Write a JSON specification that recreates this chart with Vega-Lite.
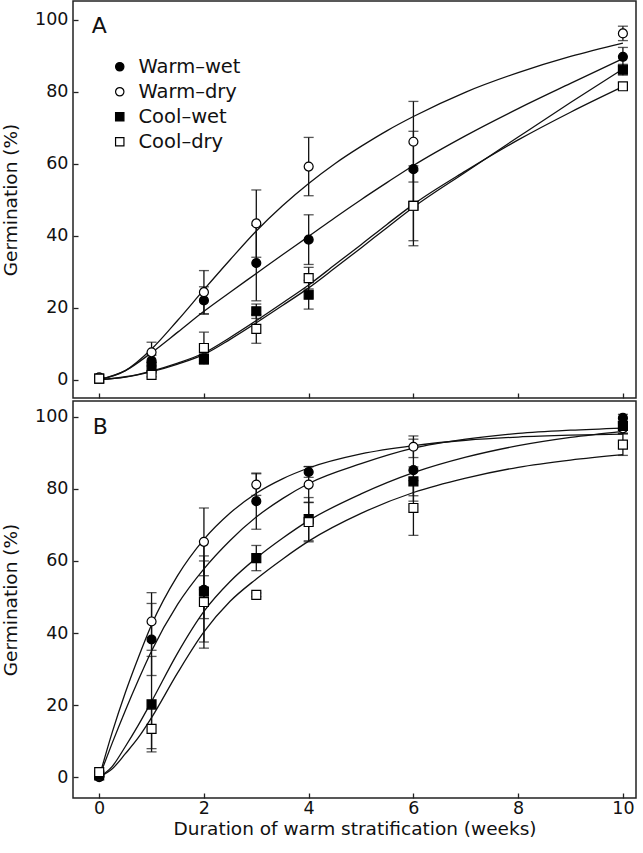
{
  "$schema": "https://vega.github.io/schema/vega-lite/v6.json",
  "padding": {"left": 0, "top": 0, "right": 5, "bottom": 5},
  "spacing": 0,
  "config": {
    "font": "DejaVu Sans",
    "view": {"stroke": "#222", "strokeWidth": 1.5},
    "axis": {"grid": false, "domain": false, "tickSize": -5, "tickColor": "#222", "tickWidth": 1.3,
             "labelFontSize": 17.5, "labelColor": "#111", "titleFontSize": 18.5, "titleFontWeight": "normal",
             "titleColor": "#111", "labelFont": "DejaVu Sans", "titleFont": "DejaVu Sans"},
    "legend": {"labelFontSize": 19.5, "labelFont": "DejaVu Sans", "labelColor": "#111", "symbolSize": 70, "rowPadding": 4,
               "labelOffset": 9, "symbolStrokeColor": "#000", "symbolStrokeWidth": 1.2, "padding": 0}
  },
  "datasets": {
    "ptsA": [
      {"treatment": "Warm–wet", "week": 0, "germ": 0.6, "lo": 0.6, "hi": 0.6},
      {"treatment": "Warm–wet", "week": 1, "germ": 5.3, "lo": 3.8, "hi": 6.8},
      {"treatment": "Warm–wet", "week": 2, "germ": 22, "lo": 18.2, "hi": 25.8},
      {"treatment": "Warm–wet", "week": 3, "germ": 32.4, "lo": 21.9, "hi": 42.9},
      {"treatment": "Warm–wet", "week": 4, "germ": 38.9, "lo": 32, "hi": 45.8},
      {"treatment": "Warm–wet", "week": 6, "germ": 58.5, "lo": 48, "hi": 69},
      {"treatment": "Warm–wet", "week": 10, "germ": 89.7, "lo": 87.1, "hi": 92.3},
      {"treatment": "Warm–dry", "week": 0, "germ": 0.6, "lo": 0.6, "hi": 0.6},
      {"treatment": "Warm–dry", "week": 1, "germ": 7.6, "lo": 4.8, "hi": 10.4},
      {"treatment": "Warm–dry", "week": 2, "germ": 24.3, "lo": 18.3, "hi": 30.3},
      {"treatment": "Warm–dry", "week": 3, "germ": 43.4, "lo": 34, "hi": 52.7},
      {"treatment": "Warm–dry", "week": 4, "germ": 59.2, "lo": 51.1, "hi": 67.3},
      {"treatment": "Warm–dry", "week": 6, "germ": 66.1, "lo": 54.9, "hi": 77.3},
      {"treatment": "Warm–dry", "week": 10, "germ": 96.2, "lo": 94.2, "hi": 98.2},
      {"treatment": "Cool–wet", "week": 0, "germ": 0.3, "lo": 0.3, "hi": 0.3},
      {"treatment": "Cool–wet", "week": 1, "germ": 3.5, "lo": 2, "hi": 5},
      {"treatment": "Cool–wet", "week": 2, "germ": 5.75, "lo": 4.3, "hi": 7.2},
      {"treatment": "Cool–wet", "week": 3, "germ": 19, "lo": 17, "hi": 21},
      {"treatment": "Cool–wet", "week": 4, "germ": 23.6, "lo": 19.6, "hi": 27.6},
      {"treatment": "Cool–wet", "week": 6, "germ": 48.3, "lo": 38.6, "hi": 58},
      {"treatment": "Cool–wet", "week": 10, "germ": 86.1, "lo": 84.6, "hi": 87.6},
      {"treatment": "Cool–dry", "week": 0, "germ": 0.3, "lo": 0.3, "hi": 0.3},
      {"treatment": "Cool–dry", "week": 1, "germ": 1.3, "lo": 0.8, "hi": 1.8},
      {"treatment": "Cool–dry", "week": 2, "germ": 8.8, "lo": 4.4, "hi": 13.2},
      {"treatment": "Cool–dry", "week": 3, "germ": 14.1, "lo": 10.1, "hi": 18.1},
      {"treatment": "Cool–dry", "week": 4, "germ": 28.2, "lo": 25.2, "hi": 31.2},
      {"treatment": "Cool–dry", "week": 6, "germ": 48.3, "lo": 37.2, "hi": 59.4},
      {"treatment": "Cool–dry", "week": 10, "germ": 81.5, "lo": 80.5, "hi": 82.5}
    ],
    "ptsB": [
      {"treatment": "Warm–wet", "week": 0, "germ": 0, "lo": 0, "hi": 0},
      {"treatment": "Warm–wet", "week": 1, "germ": 38.2, "lo": 28.2, "hi": 48.2},
      {"treatment": "Warm–wet", "week": 2, "germ": 52, "lo": 44, "hi": 60},
      {"treatment": "Warm–wet", "week": 3, "germ": 76.6, "lo": 68.8, "hi": 84.4},
      {"treatment": "Warm–wet", "week": 4, "germ": 84.7, "lo": 83.2, "hi": 86.2},
      {"treatment": "Warm–wet", "week": 6, "germ": 85.2, "lo": 76.6, "hi": 93.8},
      {"treatment": "Warm–wet", "week": 10, "germ": 99.7, "lo": 98.7, "hi": 100.7},
      {"treatment": "Warm–dry", "week": 0, "germ": 0.3, "lo": 0.3, "hi": 0.3},
      {"treatment": "Warm–dry", "week": 1, "germ": 43.2, "lo": 35.2, "hi": 51.2},
      {"treatment": "Warm–dry", "week": 2, "germ": 65.3, "lo": 55.9, "hi": 74.7},
      {"treatment": "Warm–dry", "week": 3, "germ": 81.2, "lo": 78.2, "hi": 84.2},
      {"treatment": "Warm–dry", "week": 4, "germ": 81.2, "lo": 76.2, "hi": 86.2},
      {"treatment": "Warm–dry", "week": 6, "germ": 91.7, "lo": 88.7, "hi": 94.7},
      {"treatment": "Warm–dry", "week": 10, "germ": 96.8, "lo": 95.3, "hi": 98.3},
      {"treatment": "Cool–wet", "week": 0, "germ": 0.5, "lo": 0.5, "hi": 0.5},
      {"treatment": "Cool–wet", "week": 1, "germ": 20.2, "lo": 7, "hi": 33.5},
      {"treatment": "Cool–wet", "week": 2, "germ": 51.5, "lo": 37.5, "hi": 65.5},
      {"treatment": "Cool–wet", "week": 3, "germ": 60.8, "lo": 57.3, "hi": 64.3},
      {"treatment": "Cool–wet", "week": 4, "germ": 71.6, "lo": 65.6, "hi": 77.6},
      {"treatment": "Cool–wet", "week": 6, "germ": 82.1, "lo": 78.1, "hi": 86.1},
      {"treatment": "Cool–wet", "week": 10, "germ": 97.5, "lo": 95.5, "hi": 99.5},
      {"treatment": "Cool–dry", "week": 0, "germ": 1.4, "lo": 1.4, "hi": 1.4},
      {"treatment": "Cool–dry", "week": 1, "germ": 13.4, "lo": 7.9, "hi": 18.9},
      {"treatment": "Cool–dry", "week": 2, "germ": 48.6, "lo": 35.8, "hi": 61.4},
      {"treatment": "Cool–dry", "week": 3, "germ": 50.6, "lo": 50.1, "hi": 51.1},
      {"treatment": "Cool–dry", "week": 4, "germ": 70.8, "lo": 65.3, "hi": 76.3},
      {"treatment": "Cool–dry", "week": 6, "germ": 74.7, "lo": 67.1, "hi": 82.3},
      {"treatment": "Cool–dry", "week": 10, "germ": 92.3, "lo": 89.3, "hi": 95.3}
    ],
    "curA": [
      {"treatment": "Warm–wet", "week": 0, "germ": 0}, {"treatment": "Warm–wet", "week": 0.5, "germ": 2.5},
      {"treatment": "Warm–wet", "week": 1, "germ": 7.5}, {"treatment": "Warm–wet", "week": 1.5, "germ": 13.2},
      {"treatment": "Warm–wet", "week": 2, "germ": 19}, {"treatment": "Warm–wet", "week": 2.5, "germ": 24.3},
      {"treatment": "Warm–wet", "week": 3, "germ": 29.5}, {"treatment": "Warm–wet", "week": 3.5, "germ": 34.7},
      {"treatment": "Warm–wet", "week": 4, "germ": 39.8}, {"treatment": "Warm–wet", "week": 4.5, "germ": 45},
      {"treatment": "Warm–wet", "week": 5, "germ": 50}, {"treatment": "Warm–wet", "week": 5.5, "germ": 54.8},
      {"treatment": "Warm–wet", "week": 6, "germ": 59.5}, {"treatment": "Warm–wet", "week": 7, "germ": 67.8},
      {"treatment": "Warm–wet", "week": 8, "germ": 75.3}, {"treatment": "Warm–wet", "week": 9, "germ": 82.3},
      {"treatment": "Warm–wet", "week": 10, "germ": 89.2},
      {"treatment": "Warm–dry", "week": 0, "germ": 0}, {"treatment": "Warm–dry", "week": 0.5, "germ": 2.5},
      {"treatment": "Warm–dry", "week": 1, "germ": 8.5}, {"treatment": "Warm–dry", "week": 1.5, "germ": 16.5},
      {"treatment": "Warm–dry", "week": 2, "germ": 25}, {"treatment": "Warm–dry", "week": 2.5, "germ": 33.3},
      {"treatment": "Warm–dry", "week": 3, "germ": 41.3}, {"treatment": "Warm–dry", "week": 3.5, "germ": 48.3},
      {"treatment": "Warm–dry", "week": 4, "germ": 54.5}, {"treatment": "Warm–dry", "week": 4.5, "germ": 60},
      {"treatment": "Warm–dry", "week": 5, "germ": 64.8}, {"treatment": "Warm–dry", "week": 5.5, "germ": 69.2},
      {"treatment": "Warm–dry", "week": 6, "germ": 73.1}, {"treatment": "Warm–dry", "week": 7, "germ": 79.9},
      {"treatment": "Warm–dry", "week": 8, "germ": 85.3}, {"treatment": "Warm–dry", "week": 9, "germ": 89.8},
      {"treatment": "Warm–dry", "week": 10, "germ": 93.5},
      {"treatment": "Cool–wet", "week": 0, "germ": 0}, {"treatment": "Cool–wet", "week": 0.5, "germ": 0.7},
      {"treatment": "Cool–wet", "week": 1, "germ": 2.2}, {"treatment": "Cool–wet", "week": 1.5, "germ": 4.3},
      {"treatment": "Cool–wet", "week": 2, "germ": 7}, {"treatment": "Cool–wet", "week": 2.5, "germ": 11.2},
      {"treatment": "Cool–wet", "week": 3, "germ": 15.8}, {"treatment": "Cool–wet", "week": 3.5, "germ": 20.6},
      {"treatment": "Cool–wet", "week": 4, "germ": 25.5}, {"treatment": "Cool–wet", "week": 4.5, "germ": 31},
      {"treatment": "Cool–wet", "week": 5, "germ": 36.6}, {"treatment": "Cool–wet", "week": 5.5, "germ": 42.3},
      {"treatment": "Cool–wet", "week": 6, "germ": 47.9}, {"treatment": "Cool–wet", "week": 7, "germ": 57.7},
      {"treatment": "Cool–wet", "week": 8, "germ": 67.4}, {"treatment": "Cool–wet", "week": 9, "germ": 77},
      {"treatment": "Cool–wet", "week": 10, "germ": 86.3},
      {"treatment": "Cool–dry", "week": 0, "germ": 0}, {"treatment": "Cool–dry", "week": 0.5, "germ": 0.8},
      {"treatment": "Cool–dry", "week": 1, "germ": 2.4}, {"treatment": "Cool–dry", "week": 1.5, "germ": 4.6},
      {"treatment": "Cool–dry", "week": 2, "germ": 7.4}, {"treatment": "Cool–dry", "week": 2.5, "germ": 11.7},
      {"treatment": "Cool–dry", "week": 3, "germ": 16.4}, {"treatment": "Cool–dry", "week": 3.5, "germ": 21.3},
      {"treatment": "Cool–dry", "week": 4, "germ": 26.3}, {"treatment": "Cool–dry", "week": 4.5, "germ": 31.9},
      {"treatment": "Cool–dry", "week": 5, "germ": 37.5}, {"treatment": "Cool–dry", "week": 5.5, "germ": 43.2},
      {"treatment": "Cool–dry", "week": 6, "germ": 48.7}, {"treatment": "Cool–dry", "week": 7, "germ": 58},
      {"treatment": "Cool–dry", "week": 8, "germ": 66.6}, {"treatment": "Cool–dry", "week": 9, "germ": 74.3},
      {"treatment": "Cool–dry", "week": 10, "germ": 81.4}
    ],
    "curB": [
      {"treatment": "Warm–dry", "week": 0, "germ": 0}, {"treatment": "Warm–dry", "week": 0.25, "germ": 12.5},
      {"treatment": "Warm–dry", "week": 0.5, "germ": 23.5}, {"treatment": "Warm–dry", "week": 0.75, "germ": 33.3},
      {"treatment": "Warm–dry", "week": 1, "germ": 42.3}, {"treatment": "Warm–dry", "week": 1.5, "germ": 56},
      {"treatment": "Warm–dry", "week": 2, "germ": 66}, {"treatment": "Warm–dry", "week": 2.5, "germ": 73.3},
      {"treatment": "Warm–dry", "week": 3, "germ": 78.8}, {"treatment": "Warm–dry", "week": 3.5, "germ": 82.8},
      {"treatment": "Warm–dry", "week": 4, "germ": 85.8}, {"treatment": "Warm–dry", "week": 5, "germ": 89.7},
      {"treatment": "Warm–dry", "week": 6, "germ": 92}, {"treatment": "Warm–dry", "week": 7, "germ": 93.5},
      {"treatment": "Warm–dry", "week": 8, "germ": 94.4}, {"treatment": "Warm–dry", "week": 9, "germ": 94.9},
      {"treatment": "Warm–dry", "week": 10, "germ": 95.2},
      {"treatment": "Warm–wet", "week": 0, "germ": 0}, {"treatment": "Warm–wet", "week": 0.25, "germ": 9.5},
      {"treatment": "Warm–wet", "week": 0.5, "germ": 18.5}, {"treatment": "Warm–wet", "week": 0.75, "germ": 27},
      {"treatment": "Warm–wet", "week": 1, "germ": 35}, {"treatment": "Warm–wet", "week": 1.5, "germ": 48},
      {"treatment": "Warm–wet", "week": 2, "germ": 57.8}, {"treatment": "Warm–wet", "week": 2.5, "germ": 65.7},
      {"treatment": "Warm–wet", "week": 3, "germ": 72.2}, {"treatment": "Warm–wet", "week": 3.5, "germ": 77.3},
      {"treatment": "Warm–wet", "week": 4, "germ": 81.5}, {"treatment": "Warm–wet", "week": 5, "germ": 87},
      {"treatment": "Warm–wet", "week": 6, "germ": 91.3}, {"treatment": "Warm–wet", "week": 7, "germ": 93.8},
      {"treatment": "Warm–wet", "week": 8, "germ": 95.4}, {"treatment": "Warm–wet", "week": 9, "germ": 96.3},
      {"treatment": "Warm–wet", "week": 10, "germ": 96.9},
      {"treatment": "Cool–wet", "week": 0, "germ": 0}, {"treatment": "Cool–wet", "week": 0.25, "germ": 3},
      {"treatment": "Cool–wet", "week": 0.5, "germ": 8.5}, {"treatment": "Cool–wet", "week": 0.75, "germ": 14.5},
      {"treatment": "Cool–wet", "week": 1, "germ": 21}, {"treatment": "Cool–wet", "week": 1.5, "germ": 34.5},
      {"treatment": "Cool–wet", "week": 2, "germ": 46}, {"treatment": "Cool–wet", "week": 2.5, "germ": 54.3},
      {"treatment": "Cool–wet", "week": 3, "germ": 60.8}, {"treatment": "Cool–wet", "week": 3.5, "germ": 66.3},
      {"treatment": "Cool–wet", "week": 4, "germ": 71.2}, {"treatment": "Cool–wet", "week": 5, "germ": 78.6},
      {"treatment": "Cool–wet", "week": 6, "germ": 84.5}, {"treatment": "Cool–wet", "week": 7, "germ": 88.8},
      {"treatment": "Cool–wet", "week": 8, "germ": 92}, {"treatment": "Cool–wet", "week": 9, "germ": 94.3},
      {"treatment": "Cool–wet", "week": 10, "germ": 96},
      {"treatment": "Cool–dry", "week": 0, "germ": 0}, {"treatment": "Cool–dry", "week": 0.25, "germ": 2.3},
      {"treatment": "Cool–dry", "week": 0.5, "germ": 6.5}, {"treatment": "Cool–dry", "week": 0.75, "germ": 11},
      {"treatment": "Cool–dry", "week": 1, "germ": 16.5}, {"treatment": "Cool–dry", "week": 1.5, "germ": 29},
      {"treatment": "Cool–dry", "week": 2, "germ": 40.3}, {"treatment": "Cool–dry", "week": 2.5, "germ": 48.8},
      {"treatment": "Cool–dry", "week": 3, "germ": 55}, {"treatment": "Cool–dry", "week": 3.5, "germ": 60.5},
      {"treatment": "Cool–dry", "week": 4, "germ": 65.5}, {"treatment": "Cool–dry", "week": 5, "germ": 73.2},
      {"treatment": "Cool–dry", "week": 6, "germ": 79}, {"treatment": "Cool–dry", "week": 7, "germ": 83},
      {"treatment": "Cool–dry", "week": 8, "germ": 86}, {"treatment": "Cool–dry", "week": 9, "germ": 88},
      {"treatment": "Cool–dry", "week": 10, "germ": 89.5}
    ],
    "labA": [{"week": 0, "germ": 98.3, "txt": "A"}],
    "labB": [{"week": 0.02, "germ": 97.2, "txt": "B"}]
  },
  "vconcat": [
    {
      "width": 563,
      "height": 397,
      "resolve": {"scale": {"shape": "independent", "fill": "independent", "stroke": "independent"}},
      "layer": [
        {
          "data": {"name": "ptsA"},
          "mark": {"type": "rule", "color": "#111", "strokeWidth": 1.3},
          "encoding": {
            "x": {"field": "week", "type": "quantitative", "scale": {"domain": [-0.5, 10.25], "nice": false},
                  "axis": {"values": [0, 2, 4, 6, 8, 10], "labels": false, "title": null}},
            "y": {"field": "lo", "type": "quantitative", "scale": {"domain": [-5.1, 105.2], "nice": false},
                  "axis": {"values": [0, 20, 40, 60, 80, 100], "labelPadding": 10, "titlePadding": 14}, "title": "Germination (%)"},
            "y2": {"field": "hi"}
          }
        },
        {
          "data": {"name": "ptsA"},
          "mark": {"type": "tick", "orient": "horizontal", "size": 10, "thickness": 1.3, "color": "#111"},
          "encoding": {
            "x": {"field": "week", "type": "quantitative"},
            "y": {"field": "lo", "type": "quantitative", "title": "Germination (%)"}
          }
        },
        {
          "data": {"name": "ptsA"},
          "mark": {"type": "tick", "orient": "horizontal", "size": 10, "thickness": 1.3, "color": "#111"},
          "encoding": {
            "x": {"field": "week", "type": "quantitative"},
            "y": {"field": "hi", "type": "quantitative", "title": "Germination (%)"}
          }
        },
        {
          "data": {"name": "curA"},
          "mark": {"type": "line", "interpolate": "monotone", "color": "#111", "strokeWidth": 1.3},
          "encoding": {
            "x": {"field": "week", "type": "quantitative"},
            "y": {"field": "germ", "type": "quantitative", "title": "Germination (%)"},
            "detail": {"field": "treatment"}
          }
        },
        {
          "data": {"name": "ptsA"},
          "mark": {"type": "point", "filled": true, "size": 80, "strokeWidth": 1.2, "opacity": 1},
          "encoding": {
            "x": {"field": "week", "type": "quantitative"},
            "y": {"field": "germ", "type": "quantitative", "title": "Germination (%)"},
            "shape": {"field": "treatment", "type": "nominal",
                      "scale": {"domain": ["Warm–wet", "Warm–dry", "Cool–wet", "Cool–dry"], "range": ["circle", "circle", "square", "square"]},
                      "legend": {"orient": "none", "legendX": 37, "legendY": 56, "title": null}},
            "fill": {"field": "treatment", "type": "nominal",
                     "scale": {"domain": ["Warm–wet", "Warm–dry", "Cool–wet", "Cool–dry"], "range": ["#000", "#fff", "#000", "#fff"]},
                     "legend": {"orient": "none", "legendX": 37, "legendY": 56, "title": null}},
            "stroke": {"field": "treatment", "type": "nominal",
                       "scale": {"domain": ["Warm–wet", "Warm–dry", "Cool–wet", "Cool–dry"], "range": ["#000", "#000", "#000", "#000"]},
                       "legend": {"orient": "none", "legendX": 37, "legendY": 56, "title": null}}
          }
        },
        {
          "data": {"name": "labA"},
          "mark": {"type": "text", "fontSize": 22, "align": "center", "baseline": "middle", "color": "#111"},
          "encoding": {
            "x": {"field": "week", "type": "quantitative"},
            "y": {"field": "germ", "type": "quantitative", "title": "Germination (%)"},
            "text": {"field": "txt"}
          }
        }
      ]
    },
    {
      "width": 563,
      "height": 397,
      "resolve": {"scale": {"shape": "independent", "fill": "independent", "stroke": "independent"}},
      "layer": [
        {
          "data": {"name": "ptsB"},
          "mark": {"type": "rule", "color": "#111", "strokeWidth": 1.3},
          "encoding": {
            "x": {"field": "week", "type": "quantitative", "scale": {"domain": [-0.5, 10.25], "nice": false},
                  "axis": {"values": [0, 2, 4, 6, 8, 10], "labelPadding": 6, "titlePadding": 3}, "title": "Duration of warm stratification (weeks)"},
            "y": {"field": "lo", "type": "quantitative", "scale": {"domain": [-5.8, 104.4], "nice": false},
                  "axis": {"values": [0, 20, 40, 60, 80, 100], "labelPadding": 10, "titlePadding": 14}, "title": "Germination (%)"},
            "y2": {"field": "hi"}
          }
        },
        {
          "data": {"name": "ptsB"},
          "mark": {"type": "tick", "orient": "horizontal", "size": 10, "thickness": 1.3, "color": "#111"},
          "encoding": {
            "x": {"field": "week", "type": "quantitative", "title": "Duration of warm stratification (weeks)"},
            "y": {"field": "lo", "type": "quantitative", "title": "Germination (%)"}
          }
        },
        {
          "data": {"name": "ptsB"},
          "mark": {"type": "tick", "orient": "horizontal", "size": 10, "thickness": 1.3, "color": "#111"},
          "encoding": {
            "x": {"field": "week", "type": "quantitative", "title": "Duration of warm stratification (weeks)"},
            "y": {"field": "hi", "type": "quantitative", "title": "Germination (%)"}
          }
        },
        {
          "data": {"name": "curB"},
          "mark": {"type": "line", "interpolate": "monotone", "color": "#111", "strokeWidth": 1.3},
          "encoding": {
            "x": {"field": "week", "type": "quantitative", "title": "Duration of warm stratification (weeks)"},
            "y": {"field": "germ", "type": "quantitative", "title": "Germination (%)"},
            "detail": {"field": "treatment"}
          }
        },
        {
          "data": {"name": "ptsB"},
          "mark": {"type": "point", "filled": true, "size": 80, "stroke": "#000", "strokeWidth": 1.2, "opacity": 1},
          "encoding": {
            "x": {"field": "week", "type": "quantitative", "title": "Duration of warm stratification (weeks)"},
            "y": {"field": "germ", "type": "quantitative", "title": "Germination (%)"},
            "shape": {"field": "treatment", "type": "nominal",
                      "scale": {"domain": ["Warm–wet", "Warm–dry", "Cool–wet", "Cool–dry"], "range": ["circle", "circle", "square", "square"]},
                      "legend": null},
            "fill": {"field": "treatment", "type": "nominal",
                     "scale": {"domain": ["Warm–wet", "Warm–dry", "Cool–wet", "Cool–dry"], "range": ["#000", "#fff", "#000", "#fff"]},
                     "legend": null}
          }
        },
        {
          "data": {"name": "labB"},
          "mark": {"type": "text", "fontSize": 22, "align": "center", "baseline": "middle", "color": "#111"},
          "encoding": {
            "x": {"field": "week", "type": "quantitative", "title": "Duration of warm stratification (weeks)"},
            "y": {"field": "germ", "type": "quantitative", "title": "Germination (%)"},
            "text": {"field": "txt"}
          }
        }
      ]
    }
  ]
}
